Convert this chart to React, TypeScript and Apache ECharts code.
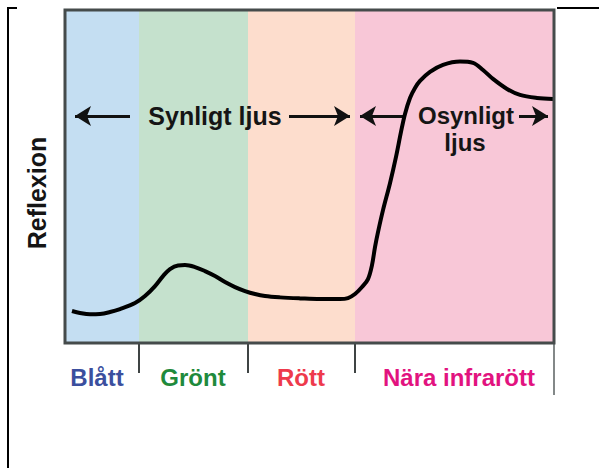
import React, { useEffect, useRef } from "react";
import * as echarts from "echarts";

// Spectral bands (x in abstract wavelength units, 0..489)
const bandNames = ["Blått", "Grönt", "Rött", "Nära infrarött"];
const bandEdges = [0, 74, 183, 290, 489];
const bandLabelAt = [32, 128, 236, 394];

// Reflectance curve (x units, reflexion 0..100)
const curveX = [
  7, 15, 25, 35, 45, 55, 70, 80, 90, 98, 105, 113, 120, 130, 140, 150, 160, 170,
  180, 190, 200, 215, 235, 255, 275, 283, 290, 297, 303, 307, 310, 313, 318, 325,
  331, 336, 340, 345, 350, 355, 365, 378, 395, 408, 418, 428, 442, 455, 472, 488,
];
const curveY = [
  9.6, 9.0, 8.6, 8.7, 9.3, 10.2, 12.0, 14.1, 17.1, 20.1, 22.2, 23.3, 23.4, 22.8,
  21.6, 20.1, 18.3, 16.8, 15.6, 14.7, 14.1, 13.7, 13.4, 13.2, 13.2, 13.5, 14.7,
  16.8, 19.2, 23.4, 28.8, 33.3, 39.9, 48.0, 55.9, 63.4, 68.8, 73.6, 76.6, 78.7,
  81.4, 83.5, 84.5, 84.1, 82.0, 79.3, 76.3, 74.5, 73.6, 73.3,
];

const bandColors = ["#c4def2", "#c5e1cd", "#fdddcd", "#f8c7d7"];
const labelColors = ["#3b4f9e", "#1f8a3c", "#ee3a4c", "#e2137f"];
const FONT = "'Liberation Sans', Arial, Helvetica, sans-serif";

export default function App() {
  const ref = useRef<HTMLDivElement>(null);
  useEffect(() => {
    document.body.style.margin = "0";
    const chart = echarts.init(ref.current!, null, { renderer: "svg" });
    const arrowY = 68.2;
    const arrowLine = (from: number, to: number) => [
      { coord: [from, arrowY] },
      { coord: [to, arrowY] },
    ];
    const rich: any = {};
    labelColors.forEach((c, i) => {
      rich["b" + i] = { color: c, fontSize: 24, fontWeight: "bold", fontFamily: FONT };
    });
    const textStyle = (text: string, size = 25) => ({
      text,
      fontSize: size,
      lineHeight: size + 2,
      fontWeight: "bold",
      fontFamily: FONT,
      fill: "#151515",
      align: "center",
      verticalAlign: "middle",
    });
    chart.setOption({
      animation: false,
      backgroundColor: "#ffffff",
      grid: { left: 65, top: 10, width: 489, height: 333, show: false },
      xAxis: [
        {
          type: "value",
          min: 0,
          max: 489,
          axisLine: { show: false },
          splitLine: { show: false },
          axisTick: {
            show: true,
            customValues: bandEdges.slice(1, 4),
            length: 30,
            lineStyle: { color: "#3f4444", width: 2 },
          },
          axisLabel: {
            show: true,
            customValues: bandLabelAt,
            margin: 22,
            formatter: (v: number) => {
              const i = bandLabelAt.indexOf(v);
              return i >= 0 ? `{b${i}|${bandNames[i]}}` : "";
            },
            rich,
          },
        },
        {
          type: "value",
          min: 0,
          max: 489,
          position: "bottom",
          axisLine: { show: false },
          splitLine: { show: false },
          axisLabel: { show: false },
          axisTick: {
            show: true,
            customValues: [bandEdges[4]],
            length: 52,
            lineStyle: { color: "#5a6060", width: 1.5 },
          },
        },
      ],
      yAxis: {
        type: "value",
        min: 0,
        max: 100,
        show: false,
      },
      series: [
        {
          type: "line",
          data: curveX.map((x, i) => [x, curveY[i]]),
          smooth: 0.35,
          symbol: "none",
          lineStyle: { color: "#000000", width: 4 },
          z: 5,
          markArea: {
            silent: true,
            data: bandColors.map((c, i) => [
              { xAxis: bandEdges[i], itemStyle: { color: c, opacity: 1 } },
              { xAxis: bandEdges[i + 1] },
            ]),
          },
          markLine: {
            silent: true,
            animation: false,
            symbol: ["none", "arrow"],
            symbolSize: [15, 16],
            label: { show: false },
            lineStyle: { color: "#111111", width: 3, type: "solid" },
            data: [
              arrowLine(65, 10),
              arrowLine(224, 285),
              arrowLine(338, 295),
              arrowLine(454, 483),
            ],
          },
        },
      ],
      graphic: [
        // outer frame pieces
        { type: "line", shape: { x1: 8, y1: 7, x2: 8, y2: 468 }, style: { stroke: "#000", lineWidth: 2 } },
        { type: "line", shape: { x1: 7, y1: 8, x2: 17, y2: 8 }, style: { stroke: "#000", lineWidth: 2 } },
        { type: "line", shape: { x1: 557, y1: 8, x2: 599, y2: 8 }, style: { stroke: "#000", lineWidth: 2 } },
        // plot frame
        {
          type: "rect",
          z: 100,
          shape: { x: 65, y: 10, width: 489, height: 333 },
          style: { fill: "none", stroke: "#454b4b", lineWidth: 3 },
        },
        {
          type: "text",
          z: 100,
          x: 37,
          y: 193,
          rotation: Math.PI / 2,
          style: textStyle("Reflexion"),
        },
        { type: "text", z: 100, x: 215, y: 116, style: textStyle("Synligt ljus") },
        { type: "text", z: 100, x: 466, y: 115, style: textStyle("Osynligt", 24) },
        { type: "text", z: 100, x: 465, y: 142, style: textStyle("ljus", 24) },
      ],
    });
    return () => chart.dispose();
  }, []);
  return (
    <div
      ref={ref}
      style={{ position: "absolute", left: 0, top: 0, width: 599, height: 468 }}
    />
  );
}
